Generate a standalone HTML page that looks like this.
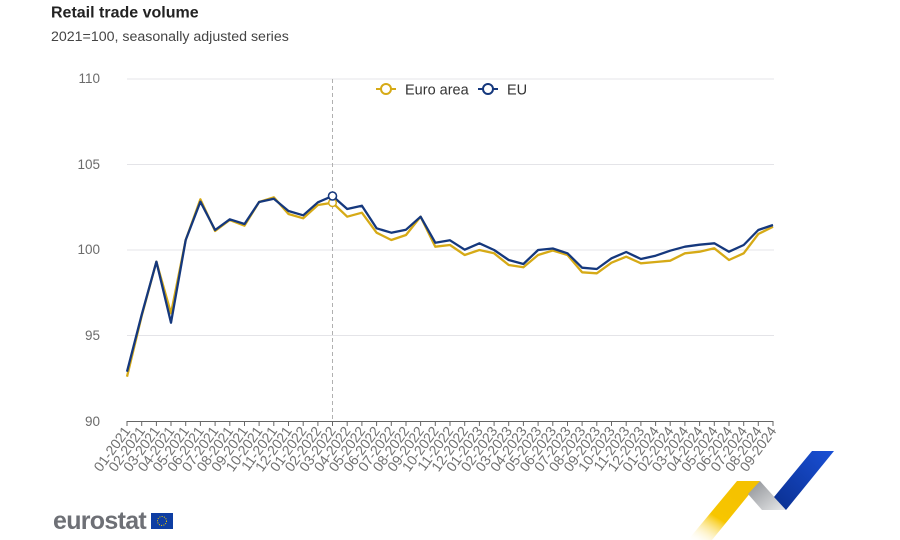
<!DOCTYPE html>
<html><head><meta charset="utf-8">
<style>
html,body{margin:0;padding:0;background:#fff;}
body{width:900px;height:540px;overflow:hidden;position:relative;font-family:"Liberation Sans",Arial,sans-serif;}
</style></head>
<body>
<svg width="900" height="540" viewBox="0 0 900 540" xmlns="http://www.w3.org/2000/svg" style="position:absolute;left:0;top:0">
<defs>
<linearGradient id="gy" x1="0" y1="1" x2="0.6" y2="0.2">
<stop offset="0" stop-color="#ffffff" stop-opacity="0"/>
<stop offset="0.55" stop-color="#f7c600"/>
<stop offset="1" stop-color="#f5c200"/>
</linearGradient>
<linearGradient id="gg" x1="0" y1="0" x2="1" y2="1">
<stop offset="0" stop-color="#8c8f94"/>
<stop offset="1" stop-color="#e8e9ea"/>
</linearGradient>
<linearGradient id="gb" x1="1" y1="0" x2="0" y2="1">
<stop offset="0" stop-color="#1a50d6"/>
<stop offset="1" stop-color="#0a2f8f"/>
</linearGradient>
</defs>
<text x="51" y="17.5" font-size="16" font-weight="bold" fill="#222">Retail trade volume</text>
<text x="51" y="41" font-size="14.2" fill="#444">2021=100, seasonally adjusted series</text>

<g stroke="#e4e4e8" stroke-width="1">
<line x1="127" y1="79" x2="774" y2="79"/>
<line x1="127" y1="164.5" x2="774" y2="164.5"/>
<line x1="127" y1="250" x2="774" y2="250"/>
<line x1="127" y1="335.5" x2="774" y2="335.5"/>
</g>
<g font-size="13.5" fill="#6b6b6b" text-anchor="end">
<text x="100" y="83">110</text>
<text x="100" y="169">105</text>
<text x="100" y="254">100</text>
<text x="100" y="340">95</text>
<text x="100" y="426">90</text>
</g>

<line x1="332.5" y1="79" x2="332.5" y2="421" stroke="#b0b0b0" stroke-width="1" stroke-dasharray="4,3"/>

<g stroke="#666" stroke-width="1">
<line x1="126.5" y1="421.5" x2="773.5" y2="421.5"/>
<path d="M127 421v5M141.7 421v5M156.4 421v5M171 421v5M185.7 421v5M200.4 421v5M215.1 421v5M229.8 421v5M244.5 421v5M259.1 421v5M273.8 421v5M288.5 421v5M303.2 421v5M317.9 421v5M332.5 421v5M347.2 421v5M361.9 421v5M376.6 421v5M391.3 421v5M406 421v5M420.6 421v5M435.3 421v5M450 421v5M464.7 421v5M479.4 421v5M494.1 421v5M508.7 421v5M523.4 421v5M538.1 421v5M552.8 421v5M567.5 421v5M582.1 421v5M596.8 421v5M611.5 421v5M626.2 421v5M640.9 421v5M655.6 421v5M670.2 421v5M684.9 421v5M699.6 421v5M714.3 421v5M729 421v5M743.7 421v5M758.3 421v5M773 421v5"/>
</g>

<g font-size="14" fill="#707070" text-anchor="end">
<text transform="translate(131,431) rotate(-54)">01-2021</text>
<text transform="translate(145.7,431) rotate(-54)">02-2021</text>
<text transform="translate(160.4,431) rotate(-54)">03-2021</text>
<text transform="translate(175,431) rotate(-54)">04-2021</text>
<text transform="translate(189.7,431) rotate(-54)">05-2021</text>
<text transform="translate(204.4,431) rotate(-54)">06-2021</text>
<text transform="translate(219.1,431) rotate(-54)">07-2021</text>
<text transform="translate(233.8,431) rotate(-54)">08-2021</text>
<text transform="translate(248.5,431) rotate(-54)">09-2021</text>
<text transform="translate(263.1,431) rotate(-54)">10-2021</text>
<text transform="translate(277.8,431) rotate(-54)">11-2021</text>
<text transform="translate(292.5,431) rotate(-54)">12-2021</text>
<text transform="translate(307.2,431) rotate(-54)">01-2022</text>
<text transform="translate(321.9,431) rotate(-54)">02-2022</text>
<text transform="translate(336.5,431) rotate(-54)">03-2022</text>
<text transform="translate(351.2,431) rotate(-54)">04-2022</text>
<text transform="translate(365.9,431) rotate(-54)">05-2022</text>
<text transform="translate(380.6,431) rotate(-54)">06-2022</text>
<text transform="translate(395.3,431) rotate(-54)">07-2022</text>
<text transform="translate(410,431) rotate(-54)">08-2022</text>
<text transform="translate(424.6,431) rotate(-54)">09-2022</text>
<text transform="translate(439.3,431) rotate(-54)">10-2022</text>
<text transform="translate(454,431) rotate(-54)">11-2022</text>
<text transform="translate(468.7,431) rotate(-54)">12-2022</text>
<text transform="translate(483.4,431) rotate(-54)">01-2023</text>
<text transform="translate(498.1,431) rotate(-54)">02-2023</text>
<text transform="translate(512.7,431) rotate(-54)">03-2023</text>
<text transform="translate(527.4,431) rotate(-54)">04-2023</text>
<text transform="translate(542.1,431) rotate(-54)">05-2023</text>
<text transform="translate(556.8,431) rotate(-54)">06-2023</text>
<text transform="translate(571.5,431) rotate(-54)">07-2023</text>
<text transform="translate(586.1,431) rotate(-54)">08-2023</text>
<text transform="translate(600.8,431) rotate(-54)">09-2023</text>
<text transform="translate(615.5,431) rotate(-54)">10-2023</text>
<text transform="translate(630.2,431) rotate(-54)">11-2023</text>
<text transform="translate(644.9,431) rotate(-54)">12-2023</text>
<text transform="translate(659.6,431) rotate(-54)">01-2024</text>
<text transform="translate(674.2,431) rotate(-54)">02-2024</text>
<text transform="translate(688.9,431) rotate(-54)">03-2024</text>
<text transform="translate(703.6,431) rotate(-54)">04-2024</text>
<text transform="translate(718.3,431) rotate(-54)">05-2024</text>
<text transform="translate(733,431) rotate(-54)">06-2024</text>
<text transform="translate(747.7,431) rotate(-54)">07-2024</text>
<text transform="translate(762.3,431) rotate(-54)">08-2024</text>
<text transform="translate(777,431) rotate(-54)">09-2024</text>
</g>

<polyline fill="none" stroke="#d6aa16" stroke-width="2.3" stroke-linejoin="round" points="127,376.7 141.7,316 156.4,261.7 171,313.3 185.7,240 200.4,199.3 215.1,231 229.8,220 244.5,225.7 259.1,202 273.8,197.3 288.5,214 303.2,218.3 317.9,205 332.5,202.7 347.2,216.7 361.9,212.7 376.6,232.7 391.3,240 406,235 420.6,216.7 435.3,246.7 450,245 464.7,255 479.4,250 494.1,253.3 508.7,265 523.4,267.3 538.1,255 552.8,250.5 567.5,255 582.1,272.3 596.8,273.3 611.5,262.7 626.2,256.7 640.9,263.3 655.6,262 670.2,260.7 684.9,253.3 699.6,251.7 714.3,248.3 729,260 743.7,253.3 758.3,234 773,226.7"/>
<polyline fill="none" stroke="#15387d" stroke-width="2.3" stroke-linejoin="round" points="127,371.7 141.7,314.7 156.4,261.7 171,322.7 185.7,240 200.4,201.7 215.1,230 229.8,219.3 244.5,224 259.1,202 273.8,198.7 288.5,211 303.2,215.3 317.9,202.3 332.5,196 347.2,209 361.9,205.7 376.6,228.3 391.3,232.7 406,229.7 420.6,216.7 435.3,242.7 450,240.3 464.7,249.7 479.4,243.3 494.1,250 508.7,260 523.4,264 538.1,250 552.8,248.5 567.5,253.3 582.1,267.7 596.8,269 611.5,258.3 626.2,252 640.9,259 655.6,255.7 670.2,250.7 684.9,246.7 699.6,244.7 714.3,243.3 729,251.7 743.7,245 758.3,230 773,225"/>
<circle cx="332.5" cy="202.7" r="3.8" fill="#fff" stroke="#d6aa16" stroke-width="1.5"/>
<circle cx="332.5" cy="196" r="4" fill="#fff" stroke="#15387d" stroke-width="1.6"/>

<g>
<line x1="376" y1="89" x2="396" y2="89" stroke="#d6aa16" stroke-width="2"/>
<circle cx="386" cy="89" r="5" fill="#fff" stroke="#d6aa16" stroke-width="2"/>
<text x="405" y="94.5" font-size="14.5" fill="#333">Euro area</text>
<line x1="478" y1="89" x2="498" y2="89" stroke="#15387d" stroke-width="2"/>
<circle cx="488" cy="89" r="5" fill="#fff" stroke="#15387d" stroke-width="2"/>
<text x="507" y="94.5" font-size="14.5" fill="#333">EU</text>
</g>

<text x="53" y="529" font-size="25" font-weight="bold" fill="#6e7076" letter-spacing="-0.7">eurostat</text>
<rect x="151" y="513" width="22" height="16" fill="#0e3ea3"/>
<circle cx="162" cy="521" r="4.5" fill="none" stroke="#f5d000" stroke-width="1" stroke-dasharray="1,1.3"/>

<polygon points="737,481 760,481 712,540 688,540" fill="url(#gy)"/>
<polygon points="760,481 748,494 762,510 786,510" fill="url(#gg)"/>
<polygon points="812,451 834,451 786,510 774,497" fill="url(#gb)"/>
</svg>
</body></html>
